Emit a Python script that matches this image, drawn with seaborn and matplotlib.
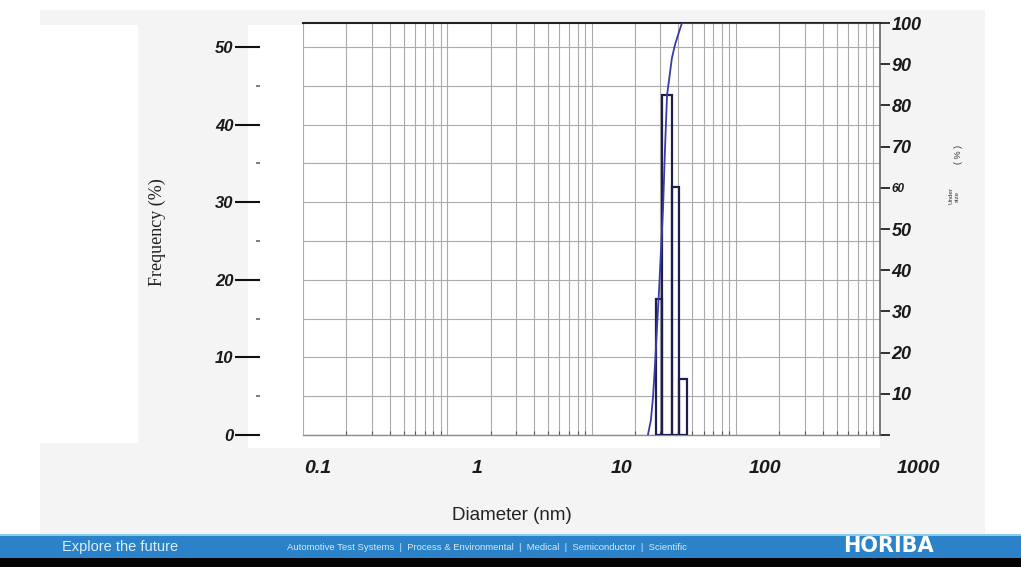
import numpy as np
import matplotlib
matplotlib.use("Agg")
import matplotlib.pyplot as plt
import matplotlib.patches as mpatches
from matplotlib.ticker import LogLocator, MultipleLocator, NullFormatter
from matplotlib.transforms import ScaledTranslation
import seaborn as sns

# ---------------- data ----------------
bin_edges_nm = [28.0, 30.8, 35.9, 40.4, 45.9]
frequency_pct = [17.5, 43.8, 32.0, 7.2]
cum_diam_nm = [24.6, 25.8, 26.7, 27.5, 29.4, 31.3, 32.3, 33.4, 36.1, 37.9, 40.4, 42.4, 1000.0]
undersize_pct = [0.0, 3.6, 9.2, 16.5, 35.2, 54.6, 69.2, 82.5, 91.5, 94.7, 97.8, 100.0, 100.0]
x_tick_values = [0.1, 1, 10, 100, 1000]
x_tick_labels = ["0.1", "1", "10", "100", "1000"]
freq_ticks = [0, 10, 20, 30, 40, 50]
freq_labels = ["0", "10", "20", "30", "40", "50"]
undersize_ticks = [0, 10, 20, 30, 40, 50, 60, 70, 80, 90, 100]
undersize_labels = ["", "10", "20", "30", "40", "50", "60", "70", "80", "90", "100"]

# ---------------- layout ----------------
W, H = 1021, 567
PT = 0.72  # points per pixel at dpi 100
x_label_dx_px = [15, 30, 30, 29, 38]

sns.set_theme(style="white")
plt.rcParams["font.family"] = ["Liberation Sans", "DejaVu Sans"]

fig = plt.figure(figsize=(W / 100, H / 100), dpi=100, facecolor="white")


def rect(x0, y0, x1, y1, color, z=-1):
    fig.patches.append(mpatches.Rectangle(
        (x0 / W, 1 - y1 / H), (x1 - x0) / W, (y1 - y0) / H,
        transform=fig.transFigure, facecolor=color, edgecolor="none", zorder=z))


# background collage
rect(40, 10, 985, 535, "#f4f4f4", z=-3)
rect(0, 25, 138, 443, "white", z=-2)
rect(248, 25, 880, 448, "white", z=-2)
# banner
rect(0, 535, W, 558, "#2b82c8", z=-2)
rect(0, 534, W, 536, "#86cdee", z=-2)
rect(0, 558, W, H, "#050505", z=-2)

ax = fig.add_axes([303 / W, 1 - 435 / H, 577 / W, 412 / H])
ax.set_facecolor("white")
ax.set_xscale("log")
ax.set_xlim(0.1, 1000)
ax.set_ylim(0, 412 / 7.76)

ax2 = ax.twinx()

# frequency bars
edges = np.array(bin_edges_nm)
ax.bar(edges[:-1], frequency_pct, width=np.diff(edges), align="edge",
       fill=False, edgecolor="#1d1d4f", linewidth=1.6, zorder=3)

# cumulative undersize curve
sns.lineplot(x=cum_diam_nm, y=undersize_pct, ax=ax2, color="#3a3aa8",
             linewidth=1.3, estimator=None, sort=False, zorder=4)
ax2.set_ylim(0, 100)
ax2.set_xlim(0.1, 1000)
ax2.set_xlabel("")
ax2.set_ylabel("")

# grid
ax.set_xticks(x_tick_values)
ax.xaxis.set_minor_locator(LogLocator(base=10, subs=np.arange(2, 10)))
ax.xaxis.set_minor_formatter(NullFormatter())
ax.set_xticklabels([])
ax.set_yticks(freq_ticks)
ax.yaxis.set_minor_locator(MultipleLocator(5))
ax.grid(True, which="both", axis="both", color="#ababab", linewidth=0.8)
ax.set_axisbelow(True)

# x ticks / labels
ax.tick_params(axis="x", which="major", length=0)
ax.tick_params(axis="x", which="minor", bottom=True, direction="in",
               length=4 * PT, width=0.8, color="#555555")
for val, lab, dx in zip(x_tick_values, x_tick_labels, x_label_dx_px):
    ax.text(val, 0, lab,
            transform=ax.get_xaxis_transform() + ScaledTranslation(dx / 100, -25 / 100, fig.dpi_scale_trans),
            ha="center", va="top", fontsize=14, fontweight="bold", fontstyle="italic",
            color="#1a1a1a", clip_on=False)

# left (frequency) axis, detached
ax.spines["left"].set_position(("outward", 43 * PT))
ax.spines["left"].set_visible(False)
ax.set_yticklabels(freq_labels, fontsize=12, fontweight="bold", fontstyle="italic", color="#1a1a1a")
ax.tick_params(axis="y", which="major", left=True, direction="out",
               length=25 * PT, width=1.5, color="#111111", pad=1)
ax.tick_params(axis="y", which="minor", left=True, direction="out",
               length=4 * PT, width=1.2, color="#666666")
for s in ["top", "right"]:
    ax.spines[s].set_visible(False)
ax.spines["bottom"].set_color("#8a8a8a")
ax.spines["bottom"].set_linewidth(1.0)

# right (undersize) axis
ax2.set_yticks(undersize_ticks)
ax2.set_yticklabels(undersize_labels, fontsize=13, fontweight="bold", fontstyle="italic", color="#1a1a1a")
ax2.get_yticklabels()[6].set_fontsize(8.5)
ax2.tick_params(axis="y", which="major", right=True, direction="out",
                length=10 * PT, width=1.3, color="#222222", pad=1)
ax2.grid(False)
ax2.spines["left"].set_visible(False)
ax2.spines["bottom"].set_visible(False)
ax2.spines["top"].set_color("#222222")
ax2.spines["top"].set_linewidth(1.5)
ax2.spines["right"].set_color("#666666")
ax2.spines["right"].set_linewidth(1.2)

# axis titles
fig.text(157 / W, 1 - 232 / H, "Frequency (%)", rotation=90, ha="center", va="center",
         family=["Liberation Serif", "DejaVu Serif"], fontsize=13, color="#222222")
fig.text(954 / W, 1 - 196 / H, "Under\nsize", rotation=90, ha="center", va="center",
         fontsize=4.5, color="#333333", linespacing=1.2)
fig.text(958 / W, 1 - 154 / H, "( % )", rotation=90, ha="center", va="center",
         fontsize=6.5, color="#333333")
fig.text(512 / W, 1 - 516 / H, "Diameter (nm)", ha="center", va="center",
         fontsize=13.5, color="#222222")

# banner texts
fig.text(62 / W, 1 - 547 / H, "Explore the future", ha="left", va="center",
         fontsize=10.5, color="#dbeefa")
fig.text(287 / W, 1 - 547 / H,
         "Automotive Test Systems  |  Process & Environmental  |  Medical  |  Semiconductor  |  Scientific",
         ha="left", va="center", fontsize=6.8, color="#d5eaf7")
fig.text(888 / W, 1 - 546 / H, "HORIBA", ha="center", va="center",
         family=["DejaVu Sans"], fontsize=15, fontweight="bold", color="white")

fig.savefig("out.png", dpi=100, facecolor=fig.get_facecolor())
